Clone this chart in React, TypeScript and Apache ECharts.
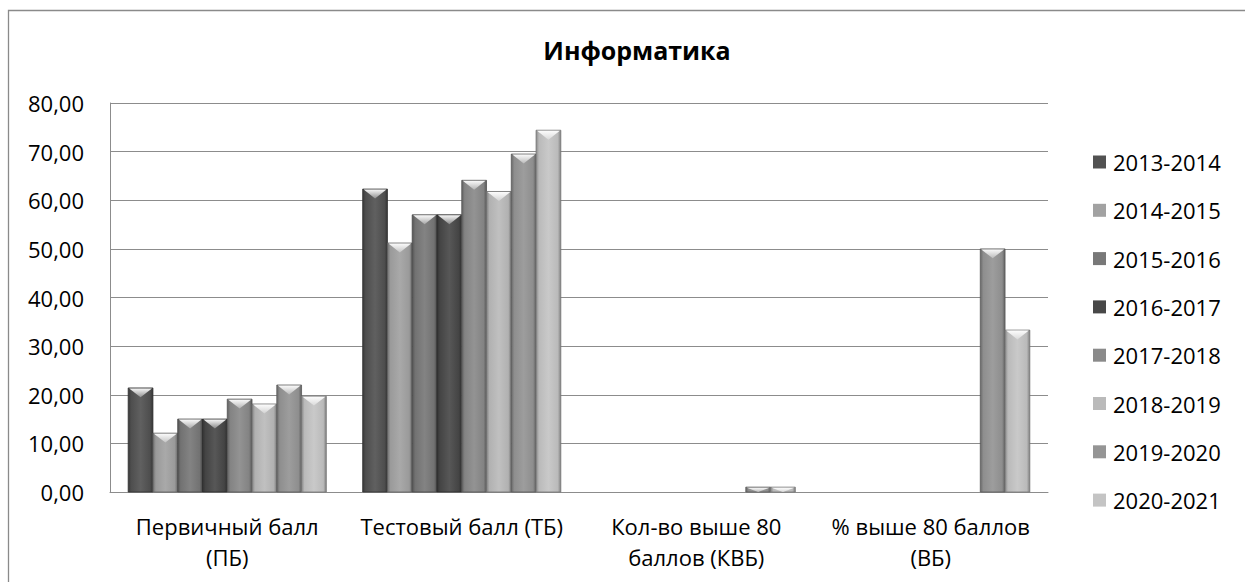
import React, { useEffect, useRef } from "react";
import * as echarts from "echarts";

const categories = [
  "Первичный балл\n(ПБ)",
  "Тестовый балл (ТБ)",
  "Кол-во выше 80\nбаллов (КВБ)",
  "% выше 80 баллов\n(ВБ)",
];
const years = [
  "2013-2014",
  "2014-2015",
  "2015-2016",
  "2016-2017",
  "2017-2018",
  "2018-2019",
  "2019-2020",
  "2020-2021",
];
const v2013 = [21.4, 62.3, 0, 0];
const v2014 = [12.1, 51.2, 0, 0];
const v2015 = [15.0, 57.0, 0, 0];
const v2016 = [15.0, 57.0, 0, 0];
const v2017 = [19.1, 64.1, 0, 0];
const v2018 = [18.1, 61.8, 0, 0];
const v2019 = [22.0, 69.5, 1, 50.0];
const v2020 = [19.7, 74.4, 1, 33.3];
const seriesValues = [v2013, v2014, v2015, v2016, v2017, v2018, v2019, v2020];
const colors = ["#525252", "#a2a2a2", "#787878", "#484848", "#8a8a8a", "#bababa", "#959595", "#c4c4c4"];
const yTicks = { min: 0, max: 80, interval: 10 };

function shade(hex: string, amt: number) {
  const n = parseInt(hex.slice(1), 16);
  let r = (n >> 16) & 255, g = (n >> 8) & 255, b = n & 255;
  const f = (c: number) => Math.max(0, Math.min(255, Math.round(amt >= 0 ? c + (255 - c) * amt : c * (1 + amt))));
  return `rgb(${f(r)},${f(g)},${f(b)})`;
}

export default function App() {
  const ref = useRef<HTMLDivElement>(null);
  useEffect(() => {
    const chart = echarts.init(ref.current!, null, { renderer: "svg" });
    const n = years.length;
    const series = years.map((name, idx) => {
      const c = colors[idx];
      return {
        type: "custom",
        name,
        itemStyle: { color: c },
        encode: { x: 0, y: 1 },
        data: seriesValues[idx].map((v, i) => [i, v]),
        renderItem: (params: any, api: any) => {
          const v = api.value(1);
          if (!v) return null;
          const cat = api.value(0);
          const base = api.coord([cat, 0]);
          const top = api.coord([cat, v]);
          const catW = api.size([1, 0])[0];
          const groupW = catW * 0.845;
          const bw = groupW / n;
          const x0 = base[0] - groupW / 2 + idx * bw;
          const h = base[1] - top[1];
          const th = Math.min(h, bw * 0.38);
          return {
            type: "group",
            children: [
              {
                type: "rect",
                shape: { x: x0, y: top[1], width: bw, height: h },
                style: {
                  fill: new echarts.graphic.LinearGradient(0, 0, 1, 0, [
                    { offset: 0, color: shade(c, -0.3) },
                    { offset: 0.12, color: shade(c, -0.05) },
                    { offset: 0.5, color: shade(c, 0.08) },
                    { offset: 0.88, color: shade(c, -0.05) },
                    { offset: 1, color: shade(c, -0.35) },
                  ]),
                  stroke: shade(c, -0.4),
                  lineWidth: 0.8,
                },
              },
              {
                type: "polygon",
                shape: {
                  points: [
                    [x0 + 1, top[1] + 0.5],
                    [x0 + bw - 1, top[1] + 0.5],
                    [x0 + bw / 2, top[1] + th],
                  ],
                },
                style: {
                  fill: new echarts.graphic.LinearGradient(0, 0, 0, 1, [
                    { offset: 0, color: "rgba(255,255,255,0.95)" },
                    { offset: 1, color: shade(c, 0.35) },
                  ]),
                },
              },
            ],
          };
        },
      };
    });
    chart.setOption({
      animation: false,
      textStyle: { fontFamily: "Open Sans" },
      title: {
        text: "Информатика",
        left: 632,
        top: 32,
        textAlign: "center",
        textStyle: { fontSize: 25, fontWeight: "bold", color: "#000", fontFamily: "Open Sans" },
      },
      graphic: [
        {
          type: "rect",
          shape: { x: 8.5, y: 10.5, width: 1400, height: 800 },
          style: { fill: "none", stroke: "#8a8a8a", lineWidth: 1.3 },
          silent: true,
        },
      ],
      legend: {
        orient: "vertical",
        left: 1088,
        top: 146,
        itemWidth: 13,
        itemHeight: 13,
        itemGap: 26.3,
        icon: "rect",
        textStyle: { fontSize: 22, lineHeight: 22, color: "#000", fontFamily: "Open Sans", padding: [0, 0, 0, 2] },
        data: years,
      },
      grid: { left: 110, top: 103, right: 197, bottom: 90, containLabel: false },
      xAxis: {
        type: "category",
        data: categories,
        axisLine: { show: true, lineStyle: { color: "#8c8c8c", width: 1 } },
        axisTick: { show: false },
        axisLabel: { fontSize: 22, lineHeight: 31, color: "#000", margin: 18, interval: 0 },
      },
      yAxis: {
        type: "value",
        min: yTicks.min,
        max: yTicks.max,
        interval: yTicks.interval,
        axisLine: { show: true, lineStyle: { color: "#8c8c8c", width: 1 } },
        axisTick: { show: false },
        splitLine: { lineStyle: { color: "#8c8c8c", width: 1 } },
        axisLabel: {
          fontSize: 22,
          color: "#000",
          margin: 26,
          formatter: (v: number) => v.toFixed(2).replace(".", ","),
        },
      },
      series,
    });
    return () => chart.dispose();
  }, []);
  return <div ref={ref} style={{ position: "fixed", left: 0, top: 0, width: 1245, height: 582, background: "#fff" }} />;
}
